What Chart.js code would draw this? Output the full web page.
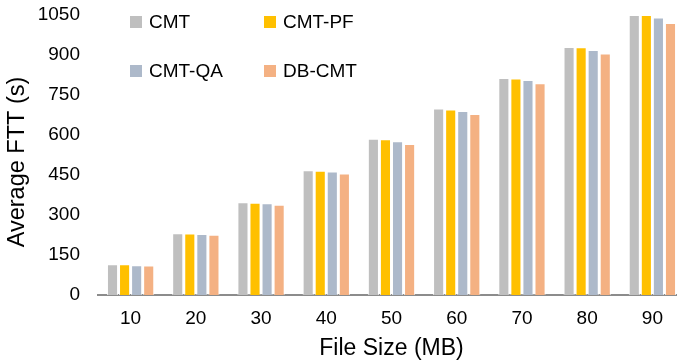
<!DOCTYPE html>
<html>
<head>
<meta charset="utf-8">
<script src="https://cdn.jsdelivr.net/npm/chart.js@4"></script>
<style>
  html, body { margin: 0; padding: 0; background: #fff; overflow: hidden; }
  #wrap { width: 685px; height: 364px; }
</style>
</head>
<body>
<div id="wrap"><canvas id="myChart"></canvas></div>
<script>
const sizes = ['10', '20', '30', '40', '50', '60', '70', '80', '90'];
const cmt = [115, 232, 348, 468, 586, 699, 814, 930, 1050];
const cmtPF = [115, 231, 346, 466, 584, 696, 812, 929, 1050];
const cmtQA = [112, 229, 344, 463, 577, 690, 806, 919, 1041];
const dbCMT = [111, 226, 338, 456, 566, 679, 794, 906, 1020];
const yTicks = [0, 150, 300, 450, 600, 750, 900, 1050];

const FONT = '"Liberation Sans", Arial, sans-serif';

const data = {
  labels: sizes,
  datasets: [
    { label: 'CMT', data: cmt, backgroundColor: '#bfbfbf' },
    { label: 'CMT-PF', data: cmtPF, backgroundColor: '#ffc000' },
    { label: 'CMT-QA', data: cmtQA, backgroundColor: '#adb9ca' },
    { label: 'DB-CMT', data: dbCMT, backgroundColor: '#f4b183' },
  ]
};

// legend inside the plot (two columns) + y axis title sitting a bit low, like the original
const extras = {
  id: 'extras',
  afterDraw(chart) {
    const ctx = chart.ctx;
    const pos = [[130, 22], [264, 22], [130, 71], [264, 71]];
    ctx.save();
    ctx.font = '19px ' + FONT;
    ctx.textBaseline = 'middle';
    chart.data.datasets.forEach((ds, i) => {
      const [x, y] = pos[i];
      ctx.fillStyle = ds.backgroundColor;
      ctx.fillRect(x, y - 6, 12, 12);
      ctx.fillStyle = '#000';
      ctx.fillText(ds.label, x + 19, y + 1);
    });
    ctx.translate(18, 162);
    ctx.rotate(-Math.PI / 2);
    ctx.font = '23.5px ' + FONT;
    ctx.textAlign = 'center';
    ctx.fillText('Average FTT (s)', 0, 0);
    ctx.restore();
  }
};

const config = {
  type: 'bar',
  data: data,
  plugins: [extras],
  options: {
    responsive: true,
    maintainAspectRatio: false,
    animation: false,
    layout: { padding: { top: 15, right: 0, left: 0, bottom: 0 } },
    datasets: {
      bar: {
        barPercentage: 0.92,
        categoryPercentage: 0.74,
        borderColor: 'rgba(255,255,255,0.8)',
        borderWidth: 1
      }
    },
    plugins: {
      legend: { display: false },
      tooltip: { enabled: false }
    },
    scales: {
      x: {
        afterFit(scale) { scale.height = 69; scale.paddingLeft = 0; scale.paddingRight = 0; },
        grid: { display: false, drawTicks: false },
        border: { color: '#8c8c8c', width: 2 },
        ticks: { color: '#000', padding: 12, font: { size: 19, family: FONT } },
        title: { display: true, text: 'File Size (MB)', color: '#000', padding: { top: 0, bottom: 2 }, font: { size: 23, family: FONT } }
      },
      y: {
        min: 0,
        max: 1050,
        afterFit(scale) { scale.width = 98; scale.paddingTop = 0; scale.paddingBottom = 0; },
        afterBuildTicks(scale) { scale.ticks = yTicks.map(v => ({ value: v })); },
        grid: { display: false, drawTicks: false },
        border: { display: false },
        ticks: { color: '#000', padding: 18, font: { size: 19, family: FONT }, callback: v => String(v) },
        title: { display: false }
      }
    }
  }
};

new Chart(document.getElementById('myChart'), config);
</script>
</body>
</html>
